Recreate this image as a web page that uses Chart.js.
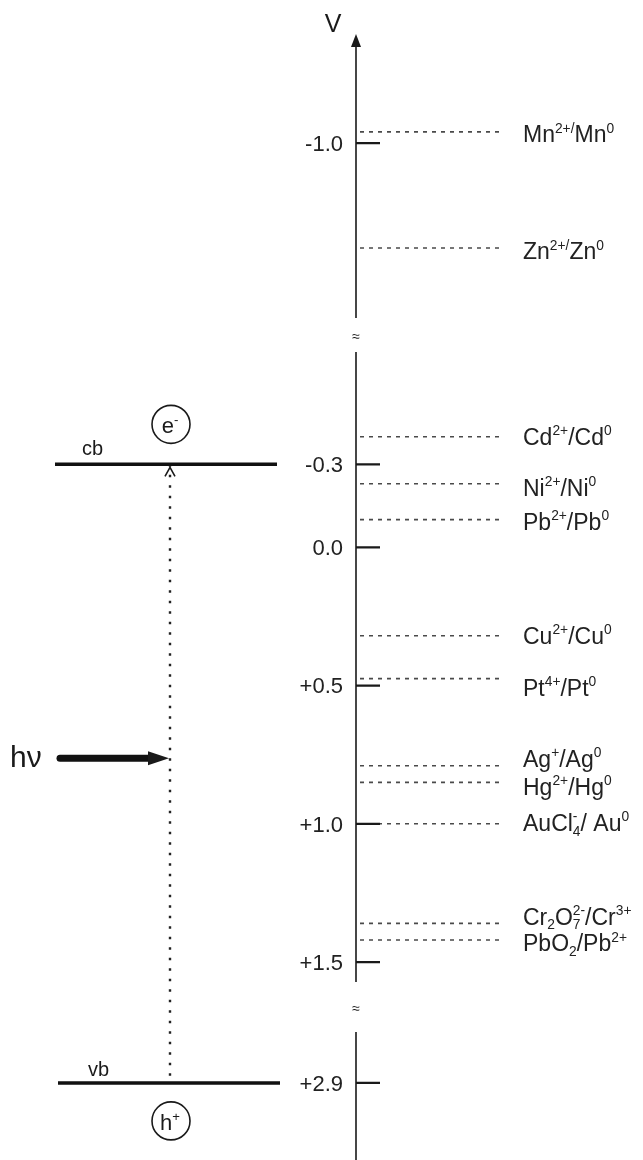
<!DOCTYPE html>
<html><head><meta charset="utf-8">
<script src="https://cdn.jsdelivr.net/npm/chart.js@4/dist/chart.umd.min.js"></script>
<style>html,body{margin:0;padding:0;background:#fff}#wrap{width:643px;height:1160px;position:relative}</style>
</head><body><div id="wrap"><canvas id="c"></canvas></div>
<script>
// ---------- data ----------
const coupleLabels = ['Mn^{2+/}Mn^{0}','Zn^{2+/}Zn^{0}','Cd^{2+}/Cd^{0}','Ni^{2+}/Ni^{0}','Pb^{2+}/Pb^{0}','Cu^{2+}/Cu^{0}','Pt^{4+}/Pt^{0}','Ag^{+}/Ag^{0}','Hg^{2+}/Hg^{0}','AuCl_{4}^{-}/ Au^{0}','Cr_{2}O_{7}^{2-}/Cr^{3+}','PbO_{2}/Pb^{2+}'];
const couplePotentials = [-1.035,-0.67,-0.40,-0.23,-0.10,0.32,0.475,0.79,0.85,1.00,1.36,1.42];
const tickValues = [-1.0,-0.3,0.0,0.5,1.0,1.5,2.9];
const tickLabels = ['-1.0','-0.3','0.0','+0.5','+1.0','+1.5','+2.9'];
const bandNames = ['cb','vb'];
const bandPotentials = [-0.3,2.9];
const carrierLabels = ['e^{-}','h^{+}'];
// broken axis: potential range of each axis piece
const segmentStart = [-1.33,-0.706,2.716];
const segmentEnd   = [-0.45,1.572,3.20];

// ---------- layout (not data) ----------
const segScale = [1.151,1,1];
const segGap = [0.123,0.181];
const labelNudge = [2,3,0,4,2,0,9,-7,4,-1,-7,3]; // px, text placement only
const AX = 356;
const FONT = '"Liberation Sans", Arial, Helvetica, sans-serif';
function segStarts(){
  const s=[]; s[1]=segmentStart[1];
  s[0]=s[1]-segGap[0]-(segmentEnd[0]-segmentStart[0])*segScale[0];
  s[2]=s[1]+(segmentEnd[1]-segmentStart[1])*segScale[1]+segGap[1];
  return s;
}
const S = segStarts();
function segOf(v){
  for(let i=0;i<segmentStart.length;i++){ if(v<=segmentEnd[i]) return i; }
  return segmentStart.length-1;
}
function toAxis(v){ const i=segOf(v); return S[i]+(v-segmentStart[i])*segScale[i]; }

// datasets
const axisData=[];
for(let i=0;i<segmentStart.length;i++){
  axisData.push({x:AX,y:S[i]},{x:AX,y:S[i]+(segmentEnd[i]-segmentStart[i])*segScale[i]},{x:AX,y:null});
}
const tickData=[];
tickValues.forEach(t=>{tickData.push({x:AX,y:toAxis(t)},{x:AX+24,y:toAxis(t)},{x:AX,y:null});});
const coupleData=[];
couplePotentials.forEach(v=>{coupleData.push({x:AX+4,y:toAxis(v)},{x:AX+146,y:toAxis(v)},{x:AX,y:null});});
const bandX=[[55,277],[58,280]];
const bandData=[];
bandPotentials.forEach((v,i)=>{bandData.push({x:bandX[i][0],y:toAxis(v)},{x:bandX[i][1],y:toAxis(v)},{x:0,y:null});});
const EXX=170;
const excData=[{x:EXX,y:toAxis(bandPotentials[0])},{x:EXX,y:toAxis(bandPotentials[1])}];
const HV_FRAC=0.475;
const hvY = toAxis(bandPotentials[0])+HV_FRAC*(toAxis(bandPotentials[1])-toAxis(bandPotentials[0]));
const hvData=[{x:60,y:hvY},{x:152,y:hvY}];

function tokens(str){
  const out=[];let i=0;
  while(i<str.length){
    if((str[i]==='^'||str[i]==='_')&&str[i+1]==='{'){const j=str.indexOf('}',i);out.push({t:str.slice(i+2,j),k:str[i]});i=j+1;}
    else{let j=i;while(j<str.length&&!((str[j]==='^'||str[j]==='_')&&str[j+1]==='{'))j++;out.push({t:str.slice(i,j),k:''});i=j;}
  }
  return out;
}
function layoutRich(ctx,str,x,y,size,draw){
  const small=size*0.6;let cx=x;let prev=null;
  tokens(str).forEach(tk=>{
    const fs=tk.k?small:size;
    ctx.font=fs+'px '+FONT;
    const w=ctx.measureText(tk.t).width;
    let dy=0;if(tk.k==='^')dy=-size*0.42;if(tk.k==='_')dy=size*0.2;
    let sx=cx;
    if(tk.k==='^'&&prev&&prev.k==='_'){sx=prev.x;cx=prev.x+Math.max(prev.w,w);}
    else cx+=w;
    if(draw)ctx.fillText(tk.t,sx,y+dy);
    prev={k:tk.k,x:sx,w:w};
  });
  return cx-x;
}
function drawRich(ctx,str,x,yMid,size,align){
  ctx.textAlign='left';ctx.textBaseline='alphabetic';
  const w=layoutRich(ctx,str,0,0,size,false);
  let sx=x;if(align==='center')sx=x-w/2;if(align==='right')sx=x-w;
  layoutRich(ctx,str,sx,yMid+size*0.36,size,true);
}

const deco={
  id:'deco',
  afterDatasetsDraw(chart){
    const ctx=chart.ctx,xs=chart.scales.x,ys=chart.scales.y;
    const px=v=>xs.getPixelForValue(v),py=u=>ys.getPixelForValue(u);
    ctx.save();
    ctx.fillStyle='#1a1a1a';ctx.strokeStyle='#1a1a1a';
    // axis arrow head
    const top=py(S[0]);const ax=px(AX);
    ctx.beginPath();ctx.moveTo(ax,top-4);ctx.lineTo(ax-5,top+9);ctx.lineTo(ax+5,top+9);ctx.closePath();ctx.fill();
    // V
    ctx.font='25px '+FONT;ctx.textAlign='center';ctx.textBaseline='middle';
    ctx.fillText('V',ax-23,top-13);
    // break marks
    for(let i=0;i<segGap.length;i++){
      const e=S[i]+(segmentEnd[i]-segmentStart[i])*segScale[i];
      const m=py(e+segGap[i]*0.55);
      ctx.font='14px '+FONT;ctx.textAlign='center';ctx.textBaseline='middle';
      ctx.fillText('\u2248',ax,m);
    }
    // tick labels
    ctx.fillStyle='#222';
    tickValues.forEach((t,i)=>{
      drawRich(ctx,tickLabels[i],ax-13,py(toAxis(t)),22,'right');
    });
    // couple labels
    couplePotentials.forEach((v,i)=>{
      drawRich(ctx,coupleLabels[i],ax+167,py(toAxis(v))+labelNudge[i],23,'left');
    });
    // band labels
    ctx.fillStyle='#1a1a1a';
    const cbY=py(toAxis(bandPotentials[0])),vbY=py(toAxis(bandPotentials[1]));
    drawRich(ctx,bandNames[0],px(bandX[0][0])+27,cbY-17,20,'left');
    drawRich(ctx,bandNames[1],px(bandX[1][0])+30,vbY-14,20,'left');
    // carriers
    const ex=px(EXX);
    [[cbY-40,carrierLabels[0]],[vbY+38,carrierLabels[1]]].forEach(([cy,lab])=>{
      ctx.lineWidth=1.6;ctx.beginPath();ctx.arc(ex+1,cy,19,0,Math.PI*2);ctx.stroke();
      drawRich(ctx,lab,ex,cy+1,22,'center');
    });
    // chevron arrowhead at cb
    ctx.lineWidth=1.6;ctx.beginPath();ctx.moveTo(ex-5,cbY+12);ctx.lineTo(ex,cbY+3);ctx.lineTo(ex+5,cbY+12);ctx.stroke();
    // hv arrow head
    const hy=py(hvY);
    ctx.beginPath();ctx.moveTo(px(169),hy);ctx.lineTo(px(148),hy-7);ctx.lineTo(px(148),hy+7);ctx.closePath();ctx.fill();
    ctx.font='30px '+FONT;ctx.textAlign='left';ctx.textBaseline='middle';
    ctx.fillText('h\u03bd',px(10),hy+1);
    ctx.restore();
  }
};

const Y0=-547.3/276.5, Y1=(1160-547.3)/276.5;
new Chart(document.getElementById('c'),{
  type:'line',
  data:{datasets:[
    {label:'axis',data:axisData,borderColor:'#1a1a1a',borderWidth:1.6,pointRadius:0,spanGaps:false},
    {label:'ticks',data:tickData,borderColor:'#1a1a1a',borderWidth:2.2,pointRadius:0,spanGaps:false},
    {label:'couples',data:coupleData,borderColor:'#4a4a4a',borderWidth:1.6,borderDash:[4,5],pointRadius:0,spanGaps:false},
    {label:'bands',data:bandData,borderColor:'#111',borderWidth:3.5,pointRadius:0,spanGaps:false},
    {label:'excitation',data:excData,borderColor:'#222',borderWidth:2.4,borderDash:[2.5,8],pointRadius:0},
    {label:'hv',data:hvData,borderColor:'#111',borderWidth:7,borderCapStyle:'round',pointRadius:0}
  ]},
  options:{
    responsive:true,maintainAspectRatio:false,animation:false,
    layout:{padding:0},
    plugins:{legend:{display:false},tooltip:{enabled:false}},
    scales:{
      x:{type:'linear',min:0,max:643,display:false},
      y:{type:'linear',min:Y0,max:Y1,reverse:true,display:false}
    }
  },
  plugins:[deco]
});
</script></body></html>
